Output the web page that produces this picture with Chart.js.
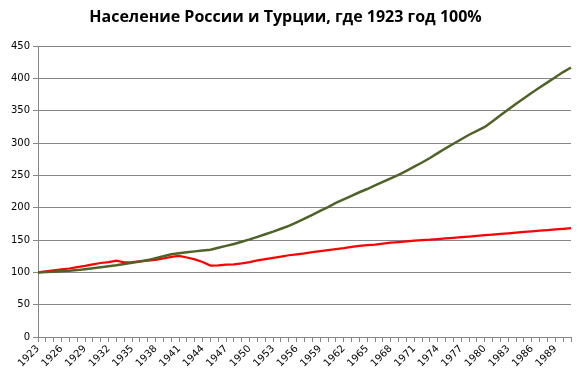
<!DOCTYPE html>
<html>
<head>
<meta charset="utf-8">
<script src="https://cdn.jsdelivr.net/npm/chart.js@4"></script>
<style>
  html, body { margin: 0; padding: 0; background: #ffffff; }
  #wrap { width: 584px; height: 382px; }
</style>
</head>
<body>
<div id="wrap"><canvas id="c" width="584" height="382"></canvas></div>
<script>
const years = [];
for (let y = 1923; y <= 1991; y++) years.push(String(y));

const titleText = "Население России и Турции, где 1923 год 100%";

const turkey = [
  100, 100.5, 101, 101.8, 102.5, 103.5, 105, 106.5, 108, 109.5,
  111, 113, 115, 117, 119, 122, 125, 128, 129.5, 131,
  132.5, 134, 135, 138, 141, 144, 147.5, 151, 155, 159,
  163, 167.5, 172, 177.5, 183, 189, 195, 201, 207.5, 213,
  218.5, 224, 229, 234.5, 240, 245.5, 251, 257, 263.5, 270,
  277, 284.5, 292, 299, 306, 313, 319, 325, 334, 343,
  352, 361, 369.5, 378, 386, 394, 402, 410, 417
];

const russia = [
  100, 101.5, 103, 104.5, 106, 108, 110, 112.5, 114.5, 116,
  118, 115.5, 116, 117, 118, 119.5, 121.5, 124, 125.5, 123,
  120, 116, 110.5, 111, 112, 112.5, 114, 116, 118.5, 120.5,
  122.5, 124.5, 126.5, 128, 129.5, 131.5, 133, 134.5, 136, 137.5,
  139.5, 141, 142, 143, 144.5, 146, 147, 148, 149, 150,
  150.5, 151.5, 152.5, 153.5, 154.5, 155.5, 156.5, 157.5, 158.5, 159.5,
  160.5, 161.5, 162.5, 163.5, 164.5, 165.5, 166.5, 167.5, 168.5
];

const yTicks = [0, 50, 100, 150, 200, 250, 300, 350, 400, 450];

const gridGray = '#868686';

new Chart(document.getElementById('c'), {
  type: 'line',
  data: {
    labels: years,
    datasets: [
      { label: 'Турция', data: turkey, borderColor: '#4F6228', borderWidth: 2.5, pointRadius: 0, tension: 0, fill: false },
      { label: 'Россия', data: russia, borderColor: '#FF0000', borderWidth: 2.25, pointRadius: 0, tension: 0, fill: false }
    ]
  },
  options: {
    responsive: false,
    animation: false,
    events: [],
    layout: { padding: { left: 0, right: 13, top: 0, bottom: 0 } },
    plugins: {
      legend: { display: false },
      tooltip: { enabled: false },
      title: {
        display: true,
        text: titleText,
        color: '#000000',
        font: { family: 'Open Sans', size: 16, weight: 'bold' },
        padding: { top: 8, bottom: 19 }
      }
    },
    scales: {
      x: {
        type: 'category',
        offset: false,
        afterFit: s => { s.height = 45; },
        grid: { display: true, drawOnChartArea: false, drawTicks: true, tickLength: 5, color: gridGray },
        border: { display: true, color: gridGray, width: 1 },
        ticks: {
          autoSkip: false,
          maxRotation: 45,
          minRotation: 45,
          padding: 1,
          color: '#000000',
          font: { family: 'DejaVu Sans', size: 10 },
          callback: function (v, i) { return i % 3 === 0 ? years[i] : ''; }
        }
      },
      y: {
        min: 0,
        max: 450,
        afterFit: s => { s.width = 38; },
        afterBuildTicks: s => { s.ticks = yTicks.map(v => ({ value: v })); },
        grid: { color: gridGray, lineWidth: 1, drawTicks: true, tickLength: 5 },
        border: { display: true, color: gridGray, width: 1 },
        ticks: {
          padding: 3,
          color: '#000000',
          font: { family: 'DejaVu Sans', size: 10 }
        }
      }
    }
  }
});
</script>
</body>
</html>
